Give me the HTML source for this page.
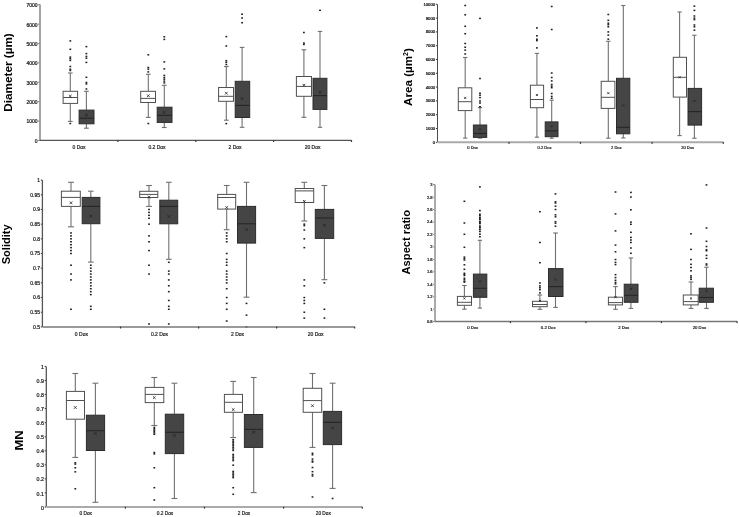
<!DOCTYPE html>
<html><head><meta charset="utf-8"><title>Box plots</title>
<style>
html,body{margin:0;padding:0;background:#fff;}
body{width:739px;height:517px;overflow:hidden;}
svg{display:block;}
text{font-family:"Liberation Sans",sans-serif;}
.tk{fill:#202020;text-anchor:end;stroke:#202020;stroke-width:0.22px;}
.xl{fill:#222;text-anchor:middle;stroke:#222;stroke-width:0.2px;}
.ti{font-weight:bold;fill:#000;}
.ax{stroke:#8a8a8a;stroke-width:1.6;}
.wk{stroke:#707070;stroke-width:1.1;}
.cap{stroke:#707070;stroke-width:1.1;}
.bw{fill:#fff;stroke:#505050;stroke-width:1;}
.mw{stroke:#505050;stroke-width:1;}
.bd{fill:#454545;stroke:#2c2c2c;stroke-width:1;}
.md{stroke:#262626;stroke-width:1.1;}
.mx{stroke:#222;stroke-width:0.8;fill:none;}
.o{fill:#1e1e1e;}
</style></head>
<body><svg style="filter:grayscale(1)" width="739" height="517" viewBox="0 0 739 517">
<rect width="739" height="517" fill="#fff"/>
<text x="37.6" y="142.8" class="tk" style="font-size:5px">0</text>
<rect x="38.4" y="139.9" width="1.3" height="1" fill="#333"/>
<text x="37.6" y="123.42" class="tk" style="font-size:5px">1000</text>
<rect x="38.4" y="120.52" width="1.3" height="1" fill="#333"/>
<text x="37.6" y="104.04" class="tk" style="font-size:5px">2000</text>
<rect x="38.4" y="101.14" width="1.3" height="1" fill="#333"/>
<text x="37.6" y="84.66" class="tk" style="font-size:5px">3000</text>
<rect x="38.4" y="81.76" width="1.3" height="1" fill="#333"/>
<text x="37.6" y="65.28" class="tk" style="font-size:5px">4000</text>
<rect x="38.4" y="62.38" width="1.3" height="1" fill="#333"/>
<text x="37.6" y="45.9" class="tk" style="font-size:5px">5000</text>
<rect x="38.4" y="43" width="1.3" height="1" fill="#333"/>
<text x="37.6" y="26.52" class="tk" style="font-size:5px">6000</text>
<rect x="38.4" y="23.62" width="1.3" height="1" fill="#333"/>
<text x="37.6" y="7.14" class="tk" style="font-size:5px">7000</text>
<rect x="38.4" y="4.24" width="1.3" height="1" fill="#333"/>
<line x1="70.3" y1="73" x2="70.3" y2="91.3" class="wk"/>
<line x1="70.3" y1="103.4" x2="70.3" y2="121.4" class="wk"/>
<line x1="67.98" y1="73" x2="72.62" y2="73" class="cap"/>
<line x1="67.98" y1="121.4" x2="72.62" y2="121.4" class="cap"/>
<rect x="63.1" y="91.3" width="14.5" height="12.1" class="bw"/>
<line x1="63.1" y1="97.5" x2="77.6" y2="97.5" class="mw"/>
<path d="M68.95 94.75L71.65 97.45M68.95 97.45L71.65 94.75" class="mx"/>
<rect x="69.4" y="40.15" width="1.8" height="1.5" class="o"/>
<rect x="69.4" y="48.55" width="1.8" height="1.5" class="o"/>
<rect x="69.4" y="56.35" width="1.8" height="1.5" class="o"/>
<rect x="69.4" y="57.95" width="1.8" height="1.5" class="o"/>
<rect x="69.4" y="59.65" width="1.8" height="1.5" class="o"/>
<rect x="69.4" y="65.75" width="1.8" height="1.5" class="o"/>
<rect x="69.4" y="68.45" width="1.8" height="1.5" class="o"/>
<rect x="69.4" y="69.75" width="1.8" height="1.5" class="o"/>
<rect x="69.4" y="122.75" width="1.8" height="1.5" class="o"/>
<line x1="86.4" y1="91.3" x2="86.4" y2="110.1" class="wk"/>
<line x1="86.4" y1="123.8" x2="86.4" y2="128.2" class="wk"/>
<line x1="84.02" y1="91.3" x2="88.78" y2="91.3" class="cap"/>
<line x1="84.02" y1="128.2" x2="88.78" y2="128.2" class="cap"/>
<rect x="79.1" y="110.1" width="14.9" height="13.7" class="bd"/>
<line x1="79.1" y1="118.2" x2="94" y2="118.2" class="md"/>
<path d="M85.05 113.75L87.75 116.45M85.05 116.45L87.75 113.75" class="mx"/>
<rect x="85.5" y="45.85" width="1.8" height="1.5" class="o"/>
<rect x="85.5" y="52.85" width="1.8" height="1.5" class="o"/>
<rect x="85.5" y="55.65" width="1.8" height="1.5" class="o"/>
<rect x="85.5" y="57.45" width="1.8" height="1.5" class="o"/>
<rect x="85.5" y="61.65" width="1.8" height="1.5" class="o"/>
<rect x="85.5" y="76.55" width="1.8" height="1.5" class="o"/>
<rect x="85.5" y="81.75" width="1.8" height="1.5" class="o"/>
<rect x="85.5" y="83.15" width="1.8" height="1.5" class="o"/>
<rect x="85.5" y="88.25" width="1.8" height="1.5" class="o"/>
<line x1="148.3" y1="74.3" x2="148.3" y2="91.3" class="wk"/>
<line x1="148.3" y1="102.5" x2="148.3" y2="117.4" class="wk"/>
<line x1="145.93" y1="74.3" x2="150.67" y2="74.3" class="cap"/>
<line x1="145.93" y1="117.4" x2="150.67" y2="117.4" class="cap"/>
<rect x="140.7" y="91.3" width="14.8" height="11.2" class="bw"/>
<line x1="140.7" y1="98.4" x2="155.5" y2="98.4" class="mw"/>
<path d="M146.95 94.35L149.65 97.05M146.95 97.05L149.65 94.35" class="mx"/>
<rect x="147.4" y="54.05" width="1.8" height="1.5" class="o"/>
<rect x="147.4" y="66.75" width="1.8" height="1.5" class="o"/>
<rect x="147.4" y="68.45" width="1.8" height="1.5" class="o"/>
<rect x="147.4" y="71.15" width="1.8" height="1.5" class="o"/>
<rect x="147.4" y="122.75" width="1.8" height="1.5" class="o"/>
<line x1="164.3" y1="85.3" x2="164.3" y2="107.2" class="wk"/>
<line x1="164.3" y1="122.4" x2="164.3" y2="127.5" class="wk"/>
<line x1="161.93" y1="85.3" x2="166.67" y2="85.3" class="cap"/>
<line x1="161.93" y1="127.5" x2="166.67" y2="127.5" class="cap"/>
<rect x="157.2" y="107.2" width="14.8" height="15.2" class="bd"/>
<line x1="157.2" y1="115.4" x2="172" y2="115.4" class="md"/>
<path d="M162.95 111.05L165.65 113.75M162.95 113.75L165.65 111.05" class="mx"/>
<rect x="163.4" y="36.05" width="1.8" height="1.5" class="o"/>
<rect x="163.4" y="38.65" width="1.8" height="1.5" class="o"/>
<rect x="163.4" y="61.15" width="1.8" height="1.5" class="o"/>
<rect x="163.4" y="68.15" width="1.8" height="1.5" class="o"/>
<rect x="163.4" y="74.65" width="1.8" height="1.5" class="o"/>
<rect x="163.4" y="76.75" width="1.8" height="1.5" class="o"/>
<rect x="163.4" y="78.45" width="1.8" height="1.5" class="o"/>
<rect x="163.4" y="80.35" width="1.8" height="1.5" class="o"/>
<rect x="163.4" y="82.15" width="1.8" height="1.5" class="o"/>
<line x1="226.3" y1="66.5" x2="226.3" y2="87.5" class="wk"/>
<line x1="226.3" y1="101.3" x2="226.3" y2="120.2" class="wk"/>
<line x1="223.92" y1="66.5" x2="228.68" y2="66.5" class="cap"/>
<line x1="223.92" y1="120.2" x2="228.68" y2="120.2" class="cap"/>
<rect x="218.6" y="87.5" width="14.9" height="13.8" class="bw"/>
<line x1="218.6" y1="96.3" x2="233.5" y2="96.3" class="mw"/>
<path d="M224.95 91.85L227.65 94.55M224.95 94.55L227.65 91.85" class="mx"/>
<rect x="225.4" y="35.85" width="1.8" height="1.5" class="o"/>
<rect x="225.4" y="45.25" width="1.8" height="1.5" class="o"/>
<rect x="225.4" y="59.95" width="1.8" height="1.5" class="o"/>
<rect x="225.4" y="61.55" width="1.8" height="1.5" class="o"/>
<rect x="225.4" y="63.75" width="1.8" height="1.5" class="o"/>
<rect x="225.4" y="122.85" width="1.8" height="1.5" class="o"/>
<line x1="242.1" y1="47.4" x2="242.1" y2="81.3" class="wk"/>
<line x1="242.1" y1="117.5" x2="242.1" y2="127.3" class="wk"/>
<line x1="239.78" y1="47.4" x2="244.42" y2="47.4" class="cap"/>
<line x1="239.78" y1="127.3" x2="244.42" y2="127.3" class="cap"/>
<rect x="235.2" y="81.3" width="14.5" height="36.2" class="bd"/>
<line x1="235.2" y1="105.4" x2="249.7" y2="105.4" class="md"/>
<path d="M240.75 97.25L243.45 99.95M240.75 99.95L243.45 97.25" class="mx"/>
<rect x="241.2" y="13.45" width="1.8" height="1.5" class="o"/>
<rect x="241.2" y="17.25" width="1.8" height="1.5" class="o"/>
<rect x="241.2" y="21.95" width="1.8" height="1.5" class="o"/>
<line x1="303.9" y1="49.8" x2="303.9" y2="76.5" class="wk"/>
<line x1="303.9" y1="96.3" x2="303.9" y2="117.3" class="wk"/>
<line x1="301.48" y1="49.8" x2="306.32" y2="49.8" class="cap"/>
<line x1="301.48" y1="117.3" x2="306.32" y2="117.3" class="cap"/>
<rect x="296.4" y="76.5" width="15.1" height="19.8" class="bw"/>
<line x1="296.4" y1="86.4" x2="311.5" y2="86.4" class="mw"/>
<path d="M302.55 83.85L305.25 86.55M302.55 86.55L305.25 83.85" class="mx"/>
<rect x="303" y="31.75" width="1.8" height="1.5" class="o"/>
<rect x="303" y="42.35" width="1.8" height="1.5" class="o"/>
<rect x="303" y="43.65" width="1.8" height="1.5" class="o"/>
<line x1="320" y1="31.4" x2="320" y2="78.3" class="wk"/>
<line x1="320" y1="109.4" x2="320" y2="127.3" class="wk"/>
<line x1="317.78" y1="31.4" x2="322.22" y2="31.4" class="cap"/>
<line x1="317.78" y1="127.3" x2="322.22" y2="127.3" class="cap"/>
<rect x="313" y="78.3" width="13.9" height="31.1" class="bd"/>
<line x1="313" y1="95.6" x2="326.9" y2="95.6" class="md"/>
<path d="M318.65 90.75L321.35 93.45M318.65 93.45L321.35 90.75" class="mx"/>
<rect x="319.1" y="9.55" width="1.8" height="1.5" class="o"/>
<line x1="40" y1="4.6" x2="40" y2="140.4" stroke="#999" stroke-width="1.8"/>
<line x1="40" y1="140.4" x2="351.5" y2="140.4" stroke="#555" stroke-width="1.25"/>
<rect x="117.3" y="140.2" width="1.2" height="1.8" fill="#333"/>
<rect x="195.2" y="140.2" width="1.2" height="1.8" fill="#333"/>
<rect x="273" y="140.2" width="1.2" height="1.8" fill="#333"/>
<rect x="350.9" y="140.2" width="1.2" height="1.8" fill="#333"/>
<text x="79" y="148.7" class="xl" style="font-size:5px">0 Dox</text>
<text x="157" y="148.7" class="xl" style="font-size:5px">0.2 Dox</text>
<text x="235" y="148.7" class="xl" style="font-size:5px">2 Dox</text>
<text x="312.6" y="148.7" class="xl" style="font-size:5px">20 Dox</text>
<text class="ti" style="font-size:11.59px" transform="translate(12.2 111.72) rotate(-90) scale(1.0135 1)">Diameter (µm)</text>
<text x="435.1" y="143.81" class="tk" style="font-size:4.2px">0</text>
<rect x="435.9" y="141.8" width="1.3" height="1" fill="#333"/>
<text x="435.1" y="130.01" class="tk" style="font-size:4.2px">1000</text>
<rect x="435.9" y="128" width="1.3" height="1" fill="#333"/>
<text x="435.1" y="116.21" class="tk" style="font-size:4.2px">2000</text>
<rect x="435.9" y="114.2" width="1.3" height="1" fill="#333"/>
<text x="435.1" y="102.41" class="tk" style="font-size:4.2px">3000</text>
<rect x="435.9" y="100.4" width="1.3" height="1" fill="#333"/>
<text x="435.1" y="88.61" class="tk" style="font-size:4.2px">4000</text>
<rect x="435.9" y="86.6" width="1.3" height="1" fill="#333"/>
<text x="435.1" y="74.81" class="tk" style="font-size:4.2px">5000</text>
<rect x="435.9" y="72.8" width="1.3" height="1" fill="#333"/>
<text x="435.1" y="61.01" class="tk" style="font-size:4.2px">6000</text>
<rect x="435.9" y="59" width="1.3" height="1" fill="#333"/>
<text x="435.1" y="47.21" class="tk" style="font-size:4.2px">7000</text>
<rect x="435.9" y="45.2" width="1.3" height="1" fill="#333"/>
<text x="435.1" y="33.41" class="tk" style="font-size:4.2px">8000</text>
<rect x="435.9" y="31.4" width="1.3" height="1" fill="#333"/>
<text x="435.1" y="19.61" class="tk" style="font-size:4.2px">9000</text>
<rect x="435.9" y="17.6" width="1.3" height="1" fill="#333"/>
<text x="435.1" y="5.81" class="tk" style="font-size:4.2px">10000</text>
<rect x="435.9" y="3.8" width="1.3" height="1" fill="#333"/>
<line x1="465.2" y1="57.5" x2="465.2" y2="87.8" class="wk"/>
<line x1="465.2" y1="110.6" x2="465.2" y2="138.1" class="wk"/>
<line x1="463.04" y1="57.5" x2="467.36" y2="57.5" class="cap"/>
<line x1="463.04" y1="138.1" x2="467.36" y2="138.1" class="cap"/>
<rect x="458.3" y="87.8" width="13.5" height="22.8" class="bw"/>
<line x1="458.3" y1="101.7" x2="471.8" y2="101.7" class="mw"/>
<path d="M464.2 96.9L466.2 98.9M464.2 98.9L466.2 96.9" class="mx"/>
<rect x="464.3" y="4.75" width="1.8" height="1.5" class="o"/>
<rect x="464.3" y="14.05" width="1.8" height="1.5" class="o"/>
<rect x="464.3" y="25.55" width="1.8" height="1.5" class="o"/>
<rect x="464.3" y="32.95" width="1.8" height="1.5" class="o"/>
<rect x="464.3" y="42.75" width="1.8" height="1.5" class="o"/>
<rect x="464.3" y="46.45" width="1.8" height="1.5" class="o"/>
<rect x="464.3" y="49.35" width="1.8" height="1.5" class="o"/>
<rect x="464.3" y="53.25" width="1.8" height="1.5" class="o"/>
<line x1="480" y1="107.6" x2="480" y2="125" class="wk"/>
<line x1="480" y1="137.4" x2="480" y2="138.1" class="wk"/>
<line x1="477.87" y1="107.6" x2="482.13" y2="107.6" class="cap"/>
<line x1="477.87" y1="138.1" x2="482.13" y2="138.1" class="cap"/>
<rect x="473.4" y="125" width="13.3" height="12.4" class="bd"/>
<line x1="473.4" y1="133.5" x2="486.7" y2="133.5" class="md"/>
<path d="M479 128.3L481 130.3M479 130.3L481 128.3" class="mx"/>
<rect x="479.1" y="17.65" width="1.8" height="1.5" class="o"/>
<rect x="479.1" y="77.75" width="1.8" height="1.5" class="o"/>
<rect x="479.1" y="92.45" width="1.8" height="1.5" class="o"/>
<rect x="479.1" y="94.45" width="1.8" height="1.5" class="o"/>
<rect x="479.1" y="96.85" width="1.8" height="1.5" class="o"/>
<rect x="479.1" y="100.25" width="1.8" height="1.5" class="o"/>
<rect x="479.1" y="102.25" width="1.8" height="1.5" class="o"/>
<rect x="479.1" y="105.95" width="1.8" height="1.5" class="o"/>
<line x1="536.9" y1="53.4" x2="536.9" y2="85.2" class="wk"/>
<line x1="536.9" y1="107.7" x2="536.9" y2="137.2" class="wk"/>
<line x1="534.79" y1="53.4" x2="539.01" y2="53.4" class="cap"/>
<line x1="534.79" y1="137.2" x2="539.01" y2="137.2" class="cap"/>
<rect x="530.4" y="85.2" width="13.2" height="22.5" class="bw"/>
<line x1="530.4" y1="99.5" x2="543.6" y2="99.5" class="mw"/>
<path d="M535.9 94L537.9 96M535.9 96L537.9 94" class="mx"/>
<rect x="536" y="27.15" width="1.8" height="1.5" class="o"/>
<rect x="536" y="35.05" width="1.8" height="1.5" class="o"/>
<rect x="536" y="38.45" width="1.8" height="1.5" class="o"/>
<rect x="536" y="39.85" width="1.8" height="1.5" class="o"/>
<rect x="536" y="47.15" width="1.8" height="1.5" class="o"/>
<line x1="551.7" y1="100.2" x2="551.7" y2="121.9" class="wk"/>
<line x1="551.7" y1="136.7" x2="551.7" y2="138.2" class="wk"/>
<line x1="549.65" y1="100.2" x2="553.75" y2="100.2" class="cap"/>
<line x1="549.65" y1="138.2" x2="553.75" y2="138.2" class="cap"/>
<rect x="545.2" y="121.9" width="12.8" height="14.8" class="bd"/>
<line x1="545.2" y1="130.9" x2="558" y2="130.9" class="md"/>
<path d="M550.7 125.3L552.7 127.3M550.7 127.3L552.7 125.3" class="mx"/>
<rect x="550.8" y="5.75" width="1.8" height="1.5" class="o"/>
<rect x="550.8" y="28.75" width="1.8" height="1.5" class="o"/>
<rect x="550.8" y="72.25" width="1.8" height="1.5" class="o"/>
<rect x="550.8" y="76.75" width="1.8" height="1.5" class="o"/>
<rect x="550.8" y="80.15" width="1.8" height="1.5" class="o"/>
<rect x="550.8" y="83.75" width="1.8" height="1.5" class="o"/>
<rect x="550.8" y="85.45" width="1.8" height="1.5" class="o"/>
<rect x="550.8" y="86.95" width="1.8" height="1.5" class="o"/>
<rect x="550.8" y="92.75" width="1.8" height="1.5" class="o"/>
<rect x="550.8" y="95.65" width="1.8" height="1.5" class="o"/>
<rect x="550.8" y="97.55" width="1.8" height="1.5" class="o"/>
<line x1="608.3" y1="41.3" x2="608.3" y2="81.3" class="wk"/>
<line x1="608.3" y1="108.4" x2="608.3" y2="138.2" class="wk"/>
<line x1="606.11" y1="41.3" x2="610.49" y2="41.3" class="cap"/>
<line x1="606.11" y1="138.2" x2="610.49" y2="138.2" class="cap"/>
<rect x="601.2" y="81.3" width="13.7" height="27.1" class="bw"/>
<line x1="601.2" y1="97.3" x2="614.9" y2="97.3" class="mw"/>
<path d="M607.3 92.2L609.3 94.2M607.3 94.2L609.3 92.2" class="mx"/>
<rect x="607.4" y="13.75" width="1.8" height="1.5" class="o"/>
<rect x="607.4" y="19.55" width="1.8" height="1.5" class="o"/>
<rect x="607.4" y="22.45" width="1.8" height="1.5" class="o"/>
<rect x="607.4" y="23.95" width="1.8" height="1.5" class="o"/>
<rect x="607.4" y="26.05" width="1.8" height="1.5" class="o"/>
<rect x="607.4" y="31.15" width="1.8" height="1.5" class="o"/>
<rect x="607.4" y="34.35" width="1.8" height="1.5" class="o"/>
<rect x="607.4" y="38.45" width="1.8" height="1.5" class="o"/>
<line x1="623.3" y1="5.5" x2="623.3" y2="78.3" class="wk"/>
<line x1="623.3" y1="133.8" x2="623.3" y2="137.9" class="wk"/>
<line x1="621.17" y1="5.5" x2="625.43" y2="5.5" class="cap"/>
<line x1="621.17" y1="137.9" x2="625.43" y2="137.9" class="cap"/>
<rect x="616.5" y="78.3" width="13.3" height="55.5" class="bd"/>
<line x1="616.5" y1="127.3" x2="629.8" y2="127.3" class="md"/>
<path d="M622.3 104.5L624.3 106.5M622.3 106.5L624.3 104.5" class="mx"/>
<line x1="679.6" y1="12" x2="679.6" y2="57.3" class="wk"/>
<line x1="679.6" y1="97.1" x2="679.6" y2="135.6" class="wk"/>
<line x1="677.49" y1="12" x2="681.71" y2="12" class="cap"/>
<line x1="677.49" y1="135.6" x2="681.71" y2="135.6" class="cap"/>
<rect x="673.3" y="57.3" width="13.2" height="39.8" class="bw"/>
<line x1="673.3" y1="77.3" x2="686.5" y2="77.3" class="mw"/>
<path d="M678.6 76.3L680.6 78.3M678.6 78.3L680.6 76.3" class="mx"/>
<line x1="694.4" y1="35.3" x2="694.4" y2="88.4" class="wk"/>
<line x1="694.4" y1="125.1" x2="694.4" y2="138.2" class="wk"/>
<line x1="692.22" y1="35.3" x2="696.58" y2="35.3" class="cap"/>
<line x1="692.22" y1="138.2" x2="696.58" y2="138.2" class="cap"/>
<rect x="688" y="88.4" width="13.6" height="36.7" class="bd"/>
<line x1="688" y1="111.6" x2="701.6" y2="111.6" class="md"/>
<path d="M693.4 99.9L695.4 101.9M693.4 101.9L695.4 99.9" class="mx"/>
<rect x="693.5" y="5.35" width="1.8" height="1.5" class="o"/>
<rect x="693.5" y="9.65" width="1.8" height="1.5" class="o"/>
<rect x="693.5" y="15.25" width="1.8" height="1.5" class="o"/>
<rect x="693.5" y="17.35" width="1.8" height="1.5" class="o"/>
<rect x="693.5" y="18.85" width="1.8" height="1.5" class="o"/>
<rect x="693.5" y="24.25" width="1.8" height="1.5" class="o"/>
<rect x="693.5" y="26.05" width="1.8" height="1.5" class="o"/>
<rect x="693.5" y="29.45" width="1.8" height="1.5" class="o"/>
<line x1="437.5" y1="4.3" x2="437.5" y2="142.2" stroke="#4a4a4a" stroke-width="1"/>
<line x1="437.5" y1="142.2" x2="723.3" y2="142.2" stroke="#aaa" stroke-width="2"/>
<rect x="508.4" y="142" width="1.2" height="1.8" fill="#333"/>
<rect x="579.9" y="142" width="1.2" height="1.8" fill="#333"/>
<rect x="651.5" y="142" width="1.2" height="1.8" fill="#333"/>
<rect x="722.7" y="142" width="1.2" height="1.8" fill="#333"/>
<text x="472.6" y="148.9" class="xl" style="font-size:4.05px">0 Dox</text>
<text x="544.6" y="148.9" class="xl" style="font-size:4.05px">0.2 Dox</text>
<text x="616.3" y="148.9" class="xl" style="font-size:4.05px">2 Dox</text>
<text x="687.6" y="148.9" class="xl" style="font-size:4.05px">20 Dox</text>
<text class="ti" style="font-size:11.16px" transform="translate(411.9 105.95) rotate(-90) scale(1.0427 1)">Area (µm<tspan font-size="60%" dy="-3.68">2</tspan><tspan dy="3.68">)</tspan></text>
<text x="40" y="328.7" class="tk" style="font-size:5px">0.5</text>
<rect x="40.8" y="326.4" width="1.3" height="1" fill="#333"/>
<text x="40" y="314.02" class="tk" style="font-size:5px">0.55</text>
<rect x="40.8" y="311.72" width="1.3" height="1" fill="#333"/>
<text x="40" y="299.34" class="tk" style="font-size:5px">0.6</text>
<rect x="40.8" y="297.04" width="1.3" height="1" fill="#333"/>
<text x="40" y="284.66" class="tk" style="font-size:5px">0.65</text>
<rect x="40.8" y="282.36" width="1.3" height="1" fill="#333"/>
<text x="40" y="269.98" class="tk" style="font-size:5px">0.7</text>
<rect x="40.8" y="267.68" width="1.3" height="1" fill="#333"/>
<text x="40" y="255.3" class="tk" style="font-size:5px">0.75</text>
<rect x="40.8" y="253" width="1.3" height="1" fill="#333"/>
<text x="40" y="240.62" class="tk" style="font-size:5px">0.8</text>
<rect x="40.8" y="238.32" width="1.3" height="1" fill="#333"/>
<text x="40" y="225.94" class="tk" style="font-size:5px">0.85</text>
<rect x="40.8" y="223.64" width="1.3" height="1" fill="#333"/>
<text x="40" y="211.26" class="tk" style="font-size:5px">0.9</text>
<rect x="40.8" y="208.96" width="1.3" height="1" fill="#333"/>
<text x="40" y="196.58" class="tk" style="font-size:5px">0.95</text>
<rect x="40.8" y="194.28" width="1.3" height="1" fill="#333"/>
<text x="40" y="181.9" class="tk" style="font-size:5px">1</text>
<rect x="40.8" y="179.6" width="1.3" height="1" fill="#333"/>
<line x1="71" y1="182.3" x2="71" y2="191.2" class="wk"/>
<line x1="71" y1="206.4" x2="71" y2="226.8" class="wk"/>
<line x1="67.98" y1="182.3" x2="74.02" y2="182.3" class="cap"/>
<line x1="67.98" y1="226.8" x2="74.02" y2="226.8" class="cap"/>
<rect x="61.4" y="191.2" width="18.9" height="15.2" class="bw"/>
<line x1="61.4" y1="197.4" x2="80.3" y2="197.4" class="mw"/>
<path d="M69.65 201.45L72.35 204.15M69.65 204.15L72.35 201.45" class="mx"/>
<rect x="70.1" y="232.2" width="1.8" height="1.5" class="o"/>
<rect x="70.1" y="235.13" width="1.8" height="1.5" class="o"/>
<rect x="70.1" y="238.07" width="1.8" height="1.5" class="o"/>
<rect x="70.1" y="241.01" width="1.8" height="1.5" class="o"/>
<rect x="70.1" y="243.94" width="1.8" height="1.5" class="o"/>
<rect x="70.1" y="246.88" width="1.8" height="1.5" class="o"/>
<rect x="70.1" y="249.81" width="1.8" height="1.5" class="o"/>
<rect x="70.1" y="252.75" width="1.8" height="1.5" class="o"/>
<rect x="70.1" y="264.49" width="1.8" height="1.5" class="o"/>
<rect x="70.1" y="273.3" width="1.8" height="1.5" class="o"/>
<rect x="70.1" y="279.17" width="1.8" height="1.5" class="o"/>
<rect x="70.1" y="308.53" width="1.8" height="1.5" class="o"/>
<line x1="90.8" y1="191.2" x2="90.8" y2="197.4" class="wk"/>
<line x1="90.8" y1="223.7" x2="90.8" y2="262.1" class="wk"/>
<line x1="87.97" y1="191.2" x2="93.63" y2="191.2" class="cap"/>
<line x1="87.97" y1="262.1" x2="93.63" y2="262.1" class="cap"/>
<rect x="82.2" y="197.4" width="17.7" height="26.3" class="bd"/>
<line x1="82.2" y1="206.4" x2="99.9" y2="206.4" class="md"/>
<path d="M89.45 214.65L92.15 217.35M89.45 217.35L92.15 214.65" class="mx"/>
<rect x="89.9" y="264.49" width="1.8" height="1.5" class="o"/>
<rect x="89.9" y="267.43" width="1.8" height="1.5" class="o"/>
<rect x="89.9" y="270.37" width="1.8" height="1.5" class="o"/>
<rect x="89.9" y="273.3" width="1.8" height="1.5" class="o"/>
<rect x="89.9" y="276.24" width="1.8" height="1.5" class="o"/>
<rect x="89.9" y="279.17" width="1.8" height="1.5" class="o"/>
<rect x="89.9" y="282.11" width="1.8" height="1.5" class="o"/>
<rect x="89.9" y="285.05" width="1.8" height="1.5" class="o"/>
<rect x="89.9" y="287.98" width="1.8" height="1.5" class="o"/>
<rect x="89.9" y="290.92" width="1.8" height="1.5" class="o"/>
<rect x="89.9" y="293.85" width="1.8" height="1.5" class="o"/>
<rect x="89.9" y="305.6" width="1.8" height="1.5" class="o"/>
<rect x="89.9" y="308.53" width="1.8" height="1.5" class="o"/>
<line x1="149" y1="185.5" x2="149" y2="191.3" class="wk"/>
<line x1="149" y1="197.5" x2="149" y2="206.4" class="wk"/>
<line x1="146.1" y1="185.5" x2="151.9" y2="185.5" class="cap"/>
<line x1="146.1" y1="206.4" x2="151.9" y2="206.4" class="cap"/>
<rect x="139.7" y="191.3" width="18.1" height="6.2" class="bw"/>
<line x1="139.7" y1="194.4" x2="157.8" y2="194.4" class="mw"/>
<path d="M147.65 195.75L150.35 198.45M147.65 198.45L150.35 195.75" class="mx"/>
<rect x="148.1" y="208.71" width="1.8" height="1.5" class="o"/>
<rect x="148.1" y="211.65" width="1.8" height="1.5" class="o"/>
<rect x="148.1" y="214.58" width="1.8" height="1.5" class="o"/>
<rect x="148.1" y="217.52" width="1.8" height="1.5" class="o"/>
<rect x="148.1" y="223.39" width="1.8" height="1.5" class="o"/>
<rect x="148.1" y="235.13" width="1.8" height="1.5" class="o"/>
<rect x="148.1" y="241.01" width="1.8" height="1.5" class="o"/>
<rect x="148.1" y="249.81" width="1.8" height="1.5" class="o"/>
<rect x="148.1" y="264.49" width="1.8" height="1.5" class="o"/>
<rect x="148.1" y="273.3" width="1.8" height="1.5" class="o"/>
<rect x="148.1" y="323.21" width="1.8" height="1.5" class="o"/>
<line x1="168.8" y1="182.3" x2="168.8" y2="200.2" class="wk"/>
<line x1="168.8" y1="223.8" x2="168.8" y2="259.3" class="wk"/>
<line x1="165.94" y1="182.3" x2="171.66" y2="182.3" class="cap"/>
<line x1="165.94" y1="259.3" x2="171.66" y2="259.3" class="cap"/>
<rect x="159.8" y="200.2" width="17.9" height="23.6" class="bd"/>
<line x1="159.8" y1="206.4" x2="177.7" y2="206.4" class="md"/>
<path d="M167.45 215.15L170.15 217.85M167.45 217.85L170.15 215.15" class="mx"/>
<rect x="167.9" y="261.56" width="1.8" height="1.5" class="o"/>
<rect x="167.9" y="270.37" width="1.8" height="1.5" class="o"/>
<rect x="167.9" y="273.3" width="1.8" height="1.5" class="o"/>
<rect x="167.9" y="279.17" width="1.8" height="1.5" class="o"/>
<rect x="167.9" y="285.05" width="1.8" height="1.5" class="o"/>
<rect x="167.9" y="290.92" width="1.8" height="1.5" class="o"/>
<rect x="167.9" y="299.73" width="1.8" height="1.5" class="o"/>
<rect x="167.9" y="305.6" width="1.8" height="1.5" class="o"/>
<rect x="167.9" y="308.53" width="1.8" height="1.5" class="o"/>
<rect x="167.9" y="323.21" width="1.8" height="1.5" class="o"/>
<line x1="226.7" y1="185.5" x2="226.7" y2="194.4" class="wk"/>
<line x1="226.7" y1="209.1" x2="226.7" y2="229.7" class="wk"/>
<line x1="223.82" y1="185.5" x2="229.58" y2="185.5" class="cap"/>
<line x1="223.82" y1="229.7" x2="229.58" y2="229.7" class="cap"/>
<rect x="217.7" y="194.4" width="18" height="14.7" class="bw"/>
<line x1="217.7" y1="197.5" x2="235.7" y2="197.5" class="mw"/>
<path d="M225.35 206.15L228.05 208.85M225.35 208.85L228.05 206.15" class="mx"/>
<rect x="225.8" y="232.2" width="1.8" height="1.5" class="o"/>
<rect x="225.8" y="235.13" width="1.8" height="1.5" class="o"/>
<rect x="225.8" y="238.07" width="1.8" height="1.5" class="o"/>
<rect x="225.8" y="241.01" width="1.8" height="1.5" class="o"/>
<rect x="225.8" y="252.75" width="1.8" height="1.5" class="o"/>
<rect x="225.8" y="258.62" width="1.8" height="1.5" class="o"/>
<rect x="225.8" y="261.56" width="1.8" height="1.5" class="o"/>
<rect x="225.8" y="264.49" width="1.8" height="1.5" class="o"/>
<rect x="225.8" y="270.37" width="1.8" height="1.5" class="o"/>
<rect x="225.8" y="273.3" width="1.8" height="1.5" class="o"/>
<rect x="225.8" y="276.24" width="1.8" height="1.5" class="o"/>
<rect x="225.8" y="279.17" width="1.8" height="1.5" class="o"/>
<rect x="225.8" y="282.11" width="1.8" height="1.5" class="o"/>
<rect x="225.8" y="287.98" width="1.8" height="1.5" class="o"/>
<rect x="225.8" y="296.79" width="1.8" height="1.5" class="o"/>
<rect x="225.8" y="302.66" width="1.8" height="1.5" class="o"/>
<rect x="225.8" y="308.53" width="1.8" height="1.5" class="o"/>
<rect x="225.8" y="320.28" width="1.8" height="1.5" class="o"/>
<line x1="246.5" y1="182.3" x2="246.5" y2="206.4" class="wk"/>
<line x1="246.5" y1="243.1" x2="246.5" y2="297.2" class="wk"/>
<line x1="243.6" y1="182.3" x2="249.4" y2="182.3" class="cap"/>
<line x1="243.6" y1="297.2" x2="249.4" y2="297.2" class="cap"/>
<rect x="237.5" y="206.4" width="18.1" height="36.7" class="bd"/>
<line x1="237.5" y1="223.8" x2="255.6" y2="223.8" class="md"/>
<path d="M245.15 228.15L247.85 230.85M245.15 230.85L247.85 228.15" class="mx"/>
<rect x="245.6" y="302.66" width="1.8" height="1.5" class="o"/>
<rect x="245.6" y="314.41" width="1.8" height="1.5" class="o"/>
<rect x="245.6" y="326.15" width="1.8" height="1.5" class="o"/>
<line x1="304.3" y1="182.3" x2="304.3" y2="188.5" class="wk"/>
<line x1="304.3" y1="202.5" x2="304.3" y2="221" class="wk"/>
<line x1="301.34" y1="182.3" x2="307.26" y2="182.3" class="cap"/>
<line x1="301.34" y1="221" x2="307.26" y2="221" class="cap"/>
<rect x="295.2" y="188.5" width="18.5" height="14" class="bw"/>
<line x1="295.2" y1="190.9" x2="313.7" y2="190.9" class="mw"/>
<path d="M302.95 199.95L305.65 202.65M302.95 202.65L305.65 199.95" class="mx"/>
<rect x="303.4" y="223.39" width="1.8" height="1.5" class="o"/>
<rect x="303.4" y="224.86" width="1.8" height="1.5" class="o"/>
<rect x="303.4" y="229.26" width="1.8" height="1.5" class="o"/>
<rect x="303.4" y="238.07" width="1.8" height="1.5" class="o"/>
<rect x="303.4" y="246.88" width="1.8" height="1.5" class="o"/>
<rect x="303.4" y="279.17" width="1.8" height="1.5" class="o"/>
<rect x="303.4" y="285.05" width="1.8" height="1.5" class="o"/>
<rect x="303.4" y="296.79" width="1.8" height="1.5" class="o"/>
<rect x="303.4" y="299.73" width="1.8" height="1.5" class="o"/>
<rect x="303.4" y="302.66" width="1.8" height="1.5" class="o"/>
<rect x="303.4" y="311.47" width="1.8" height="1.5" class="o"/>
<rect x="303.4" y="317.34" width="1.8" height="1.5" class="o"/>
<line x1="324.4" y1="185.5" x2="324.4" y2="209.4" class="wk"/>
<line x1="324.4" y1="238.4" x2="324.4" y2="279.7" class="wk"/>
<line x1="321.46" y1="185.5" x2="327.34" y2="185.5" class="cap"/>
<line x1="321.46" y1="279.7" x2="327.34" y2="279.7" class="cap"/>
<rect x="315.3" y="209.4" width="18.4" height="29" class="bd"/>
<line x1="315.3" y1="218" x2="333.7" y2="218" class="md"/>
<path d="M323.05 223.95L325.75 226.65M323.05 226.65L325.75 223.95" class="mx"/>
<rect x="323.5" y="282.11" width="1.8" height="1.5" class="o"/>
<rect x="323.5" y="308.53" width="1.8" height="1.5" class="o"/>
<rect x="323.5" y="317.34" width="1.8" height="1.5" class="o"/>
<line x1="42.4" y1="180" x2="42.4" y2="326.9" stroke="#555" stroke-width="1.3"/>
<line x1="42.4" y1="326.9" x2="354.7" y2="326.9" stroke="#777" stroke-width="1.5"/>
<rect x="119.9" y="326.7" width="1.2" height="1.8" fill="#333"/>
<rect x="198" y="326.7" width="1.2" height="1.8" fill="#333"/>
<rect x="276" y="326.7" width="1.2" height="1.8" fill="#333"/>
<rect x="354.1" y="326.7" width="1.2" height="1.8" fill="#333"/>
<text x="81.4" y="335.6" class="xl" style="font-size:5px">0 Dox</text>
<text x="159.5" y="335.6" class="xl" style="font-size:5px">0.2 Dox</text>
<text x="237.6" y="335.6" class="xl" style="font-size:5px">2 Dox</text>
<text x="315.7" y="335.6" class="xl" style="font-size:5px">20 Dox</text>
<text class="ti" style="font-size:11.16px" transform="translate(10 264.33) rotate(-90) scale(0.9940 1)">Solidity</text>
<text x="432.6" y="323.08" class="tk" style="font-size:4.1px">0.8</text>
<rect x="433.4" y="321.1" width="1.3" height="1" fill="#333"/>
<text x="432.6" y="310.62" class="tk" style="font-size:4.1px">1</text>
<rect x="433.4" y="308.65" width="1.3" height="1" fill="#333"/>
<text x="432.6" y="298.17" class="tk" style="font-size:4.1px">1.2</text>
<rect x="433.4" y="296.19" width="1.3" height="1" fill="#333"/>
<text x="432.6" y="285.71" class="tk" style="font-size:4.1px">1.4</text>
<rect x="433.4" y="283.74" width="1.3" height="1" fill="#333"/>
<text x="432.6" y="273.26" class="tk" style="font-size:4.1px">1.6</text>
<rect x="433.4" y="271.28" width="1.3" height="1" fill="#333"/>
<text x="432.6" y="260.81" class="tk" style="font-size:4.1px">1.8</text>
<rect x="433.4" y="258.83" width="1.3" height="1" fill="#333"/>
<text x="432.6" y="248.35" class="tk" style="font-size:4.1px">2</text>
<rect x="433.4" y="246.38" width="1.3" height="1" fill="#333"/>
<text x="432.6" y="235.9" class="tk" style="font-size:4.1px">2.2</text>
<rect x="433.4" y="233.92" width="1.3" height="1" fill="#333"/>
<text x="432.6" y="223.44" class="tk" style="font-size:4.1px">2.4</text>
<rect x="433.4" y="221.47" width="1.3" height="1" fill="#333"/>
<text x="432.6" y="210.99" class="tk" style="font-size:4.1px">2.6</text>
<rect x="433.4" y="209.01" width="1.3" height="1" fill="#333"/>
<text x="432.6" y="198.54" class="tk" style="font-size:4.1px">2.8</text>
<rect x="433.4" y="196.56" width="1.3" height="1" fill="#333"/>
<text x="432.6" y="186.08" class="tk" style="font-size:4.1px">3</text>
<rect x="433.4" y="184.11" width="1.3" height="1" fill="#333"/>
<line x1="464.4" y1="285.5" x2="464.4" y2="296.4" class="wk"/>
<line x1="464.4" y1="305.3" x2="464.4" y2="309.2" class="wk"/>
<line x1="462.14" y1="285.5" x2="466.66" y2="285.5" class="cap"/>
<line x1="462.14" y1="309.2" x2="466.66" y2="309.2" class="cap"/>
<rect x="457.4" y="296.4" width="14.1" height="8.9" class="bw"/>
<line x1="457.4" y1="302.3" x2="471.5" y2="302.3" class="mw"/>
<path d="M463.35 297.35L465.45 299.45M463.35 299.45L465.45 297.35" class="mx"/>
<rect x="463.5" y="200.55" width="1.8" height="1.5" class="o"/>
<rect x="463.5" y="222.25" width="1.8" height="1.5" class="o"/>
<rect x="463.5" y="233.55" width="1.8" height="1.5" class="o"/>
<rect x="463.5" y="246.55" width="1.8" height="1.5" class="o"/>
<rect x="463.5" y="256.35" width="1.8" height="1.5" class="o"/>
<rect x="463.5" y="257.85" width="1.8" height="1.5" class="o"/>
<rect x="463.5" y="259.25" width="1.8" height="1.5" class="o"/>
<rect x="463.5" y="264.05" width="1.8" height="1.5" class="o"/>
<rect x="463.5" y="268.55" width="1.8" height="1.5" class="o"/>
<rect x="463.5" y="272.55" width="1.8" height="1.5" class="o"/>
<rect x="463.5" y="273.65" width="1.8" height="1.5" class="o"/>
<rect x="463.5" y="274.75" width="1.8" height="1.5" class="o"/>
<rect x="463.5" y="277.55" width="1.8" height="1.5" class="o"/>
<rect x="463.5" y="279.05" width="1.8" height="1.5" class="o"/>
<rect x="463.5" y="280.65" width="1.8" height="1.5" class="o"/>
<rect x="463.5" y="281.35" width="1.8" height="1.5" class="o"/>
<line x1="479.9" y1="240.3" x2="479.9" y2="274.1" class="wk"/>
<line x1="479.9" y1="297.3" x2="479.9" y2="308.1" class="wk"/>
<line x1="477.76" y1="240.3" x2="482.04" y2="240.3" class="cap"/>
<line x1="477.76" y1="308.1" x2="482.04" y2="308.1" class="cap"/>
<rect x="473.4" y="274.1" width="13.4" height="23.2" class="bd"/>
<line x1="473.4" y1="288.3" x2="486.8" y2="288.3" class="md"/>
<path d="M478.85 280.35L480.95 282.45M478.85 282.45L480.95 280.35" class="mx"/>
<rect x="479" y="186.15" width="1.8" height="1.5" class="o"/>
<rect x="479" y="209.85" width="1.8" height="1.5" class="o"/>
<rect x="479" y="213.55" width="1.8" height="1.5" class="o"/>
<rect x="479" y="214.85" width="1.8" height="1.5" class="o"/>
<rect x="479" y="216.65" width="1.8" height="1.5" class="o"/>
<rect x="479" y="217.85" width="1.8" height="1.5" class="o"/>
<rect x="479" y="218.85" width="1.8" height="1.5" class="o"/>
<rect x="479" y="220.85" width="1.8" height="1.5" class="o"/>
<rect x="479" y="221.85" width="1.8" height="1.5" class="o"/>
<rect x="479" y="222.85" width="1.8" height="1.5" class="o"/>
<rect x="479" y="225.25" width="1.8" height="1.5" class="o"/>
<rect x="479" y="226.25" width="1.8" height="1.5" class="o"/>
<rect x="479" y="227.15" width="1.8" height="1.5" class="o"/>
<rect x="479" y="228.85" width="1.8" height="1.5" class="o"/>
<rect x="479" y="230.75" width="1.8" height="1.5" class="o"/>
<rect x="479" y="233.45" width="1.8" height="1.5" class="o"/>
<rect x="479" y="235.95" width="1.8" height="1.5" class="o"/>
<line x1="539.9" y1="295" x2="539.9" y2="301.3" class="wk"/>
<line x1="539.9" y1="306.7" x2="539.9" y2="309.3" class="wk"/>
<line x1="537.55" y1="295" x2="542.25" y2="295" class="cap"/>
<line x1="537.55" y1="309.3" x2="542.25" y2="309.3" class="cap"/>
<rect x="532.5" y="301.3" width="14.7" height="5.4" class="bw"/>
<line x1="532.5" y1="304.5" x2="547.2" y2="304.5" class="mw"/>
<path d="M538.85 299.85L540.95 301.95M538.85 301.95L540.95 299.85" class="mx"/>
<rect x="539" y="210.95" width="1.8" height="1.5" class="o"/>
<rect x="539" y="241.75" width="1.8" height="1.5" class="o"/>
<rect x="539" y="261.95" width="1.8" height="1.5" class="o"/>
<rect x="539" y="282.25" width="1.8" height="1.5" class="o"/>
<rect x="539" y="285.15" width="1.8" height="1.5" class="o"/>
<rect x="539" y="287.05" width="1.8" height="1.5" class="o"/>
<rect x="539" y="288.95" width="1.8" height="1.5" class="o"/>
<rect x="539" y="292.15" width="1.8" height="1.5" class="o"/>
<line x1="555.5" y1="233" x2="555.5" y2="268.6" class="wk"/>
<line x1="555.5" y1="296.5" x2="555.5" y2="307.4" class="wk"/>
<line x1="553.18" y1="233" x2="557.82" y2="233" class="cap"/>
<line x1="553.18" y1="307.4" x2="557.82" y2="307.4" class="cap"/>
<rect x="548.5" y="268.6" width="14.5" height="27.9" class="bd"/>
<line x1="548.5" y1="286.6" x2="563" y2="286.6" class="md"/>
<path d="M554.45 278.45L556.55 280.55M554.45 280.55L556.55 278.45" class="mx"/>
<rect x="554.6" y="193.15" width="1.8" height="1.5" class="o"/>
<rect x="554.6" y="201.05" width="1.8" height="1.5" class="o"/>
<rect x="554.6" y="202.25" width="1.8" height="1.5" class="o"/>
<rect x="554.6" y="205.45" width="1.8" height="1.5" class="o"/>
<rect x="554.6" y="208.75" width="1.8" height="1.5" class="o"/>
<rect x="554.6" y="214.15" width="1.8" height="1.5" class="o"/>
<rect x="554.6" y="216.05" width="1.8" height="1.5" class="o"/>
<rect x="554.6" y="220.95" width="1.8" height="1.5" class="o"/>
<rect x="554.6" y="222.45" width="1.8" height="1.5" class="o"/>
<rect x="554.6" y="225.45" width="1.8" height="1.5" class="o"/>
<line x1="615.5" y1="286.6" x2="615.5" y2="297.2" class="wk"/>
<line x1="615.5" y1="304.9" x2="615.5" y2="309.3" class="wk"/>
<line x1="613.24" y1="286.6" x2="617.76" y2="286.6" class="cap"/>
<line x1="613.24" y1="309.3" x2="617.76" y2="309.3" class="cap"/>
<rect x="608.4" y="297.2" width="14.1" height="7.7" class="bw"/>
<line x1="608.4" y1="302.6" x2="622.5" y2="302.6" class="mw"/>
<path d="M614.45 296.15L616.55 298.25M614.45 298.25L616.55 296.15" class="mx"/>
<rect x="614.6" y="191.25" width="1.8" height="1.5" class="o"/>
<rect x="614.6" y="213.15" width="1.8" height="1.5" class="o"/>
<rect x="614.6" y="230.15" width="1.8" height="1.5" class="o"/>
<rect x="614.6" y="244.35" width="1.8" height="1.5" class="o"/>
<rect x="614.6" y="251.05" width="1.8" height="1.5" class="o"/>
<rect x="614.6" y="258.75" width="1.8" height="1.5" class="o"/>
<rect x="614.6" y="261.65" width="1.8" height="1.5" class="o"/>
<rect x="614.6" y="263.85" width="1.8" height="1.5" class="o"/>
<rect x="614.6" y="273.95" width="1.8" height="1.5" class="o"/>
<rect x="614.6" y="276.85" width="1.8" height="1.5" class="o"/>
<rect x="614.6" y="279.55" width="1.8" height="1.5" class="o"/>
<rect x="614.6" y="281.65" width="1.8" height="1.5" class="o"/>
<rect x="614.6" y="283.15" width="1.8" height="1.5" class="o"/>
<line x1="630.9" y1="258" x2="630.9" y2="284.2" class="wk"/>
<line x1="630.9" y1="302.3" x2="630.9" y2="308.4" class="wk"/>
<line x1="628.69" y1="258" x2="633.11" y2="258" class="cap"/>
<line x1="628.69" y1="308.4" x2="633.11" y2="308.4" class="cap"/>
<rect x="624.2" y="284.2" width="13.8" height="18.1" class="bd"/>
<line x1="624.2" y1="295.3" x2="638" y2="295.3" class="md"/>
<path d="M629.85 287.75L631.95 289.85M629.85 289.85L631.95 287.75" class="mx"/>
<rect x="630" y="191.65" width="1.8" height="1.5" class="o"/>
<rect x="630" y="196.25" width="1.8" height="1.5" class="o"/>
<rect x="630" y="209.05" width="1.8" height="1.5" class="o"/>
<rect x="630" y="221.35" width="1.8" height="1.5" class="o"/>
<rect x="630" y="223.55" width="1.8" height="1.5" class="o"/>
<rect x="630" y="231.55" width="1.8" height="1.5" class="o"/>
<rect x="630" y="236.65" width="1.8" height="1.5" class="o"/>
<rect x="630" y="239.25" width="1.8" height="1.5" class="o"/>
<rect x="630" y="241.75" width="1.8" height="1.5" class="o"/>
<rect x="630" y="247.25" width="1.8" height="1.5" class="o"/>
<rect x="630" y="252.55" width="1.8" height="1.5" class="o"/>
<line x1="691" y1="282" x2="691" y2="295" class="wk"/>
<line x1="691" y1="304.9" x2="691" y2="308.4" class="wk"/>
<line x1="688.62" y1="282" x2="693.38" y2="282" class="cap"/>
<line x1="688.62" y1="308.4" x2="693.38" y2="308.4" class="cap"/>
<rect x="683.3" y="295" width="14.9" height="9.9" class="bw"/>
<line x1="683.3" y1="301.6" x2="698.2" y2="301.6" class="mw"/>
<path d="M689.95 297.35L692.05 299.45M689.95 299.45L692.05 297.35" class="mx"/>
<rect x="690.1" y="233.05" width="1.8" height="1.5" class="o"/>
<rect x="690.1" y="248.65" width="1.8" height="1.5" class="o"/>
<rect x="690.1" y="258.75" width="1.8" height="1.5" class="o"/>
<rect x="690.1" y="263.55" width="1.8" height="1.5" class="o"/>
<rect x="690.1" y="266.75" width="1.8" height="1.5" class="o"/>
<rect x="690.1" y="270.05" width="1.8" height="1.5" class="o"/>
<rect x="690.1" y="275.15" width="1.8" height="1.5" class="o"/>
<rect x="690.1" y="276.85" width="1.8" height="1.5" class="o"/>
<rect x="690.1" y="278.65" width="1.8" height="1.5" class="o"/>
<line x1="706.5" y1="267.2" x2="706.5" y2="288.2" class="wk"/>
<line x1="706.5" y1="302.3" x2="706.5" y2="308.4" class="wk"/>
<line x1="704.23" y1="267.2" x2="708.77" y2="267.2" class="cap"/>
<line x1="704.23" y1="308.4" x2="708.77" y2="308.4" class="cap"/>
<rect x="699.2" y="288.2" width="14.2" height="14.1" class="bd"/>
<line x1="699.2" y1="297.5" x2="713.4" y2="297.5" class="md"/>
<path d="M705.45 290.05L707.55 292.15M705.45 292.15L707.55 290.05" class="mx"/>
<rect x="705.6" y="184.15" width="1.8" height="1.5" class="o"/>
<rect x="705.6" y="227.25" width="1.8" height="1.5" class="o"/>
<rect x="705.6" y="240.55" width="1.8" height="1.5" class="o"/>
<rect x="705.6" y="245.75" width="1.8" height="1.5" class="o"/>
<rect x="705.6" y="248.95" width="1.8" height="1.5" class="o"/>
<rect x="705.6" y="250.05" width="1.8" height="1.5" class="o"/>
<rect x="705.6" y="254.65" width="1.8" height="1.5" class="o"/>
<rect x="705.6" y="257.55" width="1.8" height="1.5" class="o"/>
<rect x="705.6" y="263.15" width="1.8" height="1.5" class="o"/>
<rect x="705.6" y="264.25" width="1.8" height="1.5" class="o"/>
<line x1="435" y1="184.6" x2="435" y2="321.5" stroke="#aaa" stroke-width="2"/>
<line x1="435" y1="321.5" x2="737.1" y2="321.5" stroke="#777" stroke-width="1.5"/>
<rect x="509.8" y="321.3" width="1.2" height="1.8" fill="#333"/>
<rect x="585.3" y="321.3" width="1.2" height="1.8" fill="#333"/>
<rect x="660.8" y="321.3" width="1.2" height="1.8" fill="#333"/>
<rect x="736.5" y="321.3" width="1.2" height="1.8" fill="#333"/>
<text x="472.7" y="328.8" class="xl" style="font-size:4.25px">0 Dox</text>
<text x="548.2" y="328.8" class="xl" style="font-size:4.25px">0.2 Dox</text>
<text x="623.7" y="328.8" class="xl" style="font-size:4.25px">2 Dox</text>
<text x="699.4" y="328.8" class="xl" style="font-size:4.25px">20 Dox</text>
<text class="ti" style="font-size:11.01px" transform="translate(409.9 274.43) rotate(-90) scale(1.0128 1)">Aspect ratio</text>
<text x="43.9" y="509.61" class="tk" style="font-size:5.3px">0</text>
<rect x="44.7" y="506.5" width="1.3" height="1" fill="#333"/>
<text x="43.9" y="495.55" class="tk" style="font-size:5.3px">0.1</text>
<rect x="44.7" y="492.44" width="1.3" height="1" fill="#333"/>
<text x="43.9" y="481.49" class="tk" style="font-size:5.3px">0.2</text>
<rect x="44.7" y="478.38" width="1.3" height="1" fill="#333"/>
<text x="43.9" y="467.43" class="tk" style="font-size:5.3px">0.3</text>
<rect x="44.7" y="464.32" width="1.3" height="1" fill="#333"/>
<text x="43.9" y="453.37" class="tk" style="font-size:5.3px">0.4</text>
<rect x="44.7" y="450.26" width="1.3" height="1" fill="#333"/>
<text x="43.9" y="439.31" class="tk" style="font-size:5.3px">0.5</text>
<rect x="44.7" y="436.2" width="1.3" height="1" fill="#333"/>
<text x="43.9" y="425.25" class="tk" style="font-size:5.3px">0.6</text>
<rect x="44.7" y="422.14" width="1.3" height="1" fill="#333"/>
<text x="43.9" y="411.19" class="tk" style="font-size:5.3px">0.7</text>
<rect x="44.7" y="408.08" width="1.3" height="1" fill="#333"/>
<text x="43.9" y="397.13" class="tk" style="font-size:5.3px">0.8</text>
<rect x="44.7" y="394.02" width="1.3" height="1" fill="#333"/>
<text x="43.9" y="383.07" class="tk" style="font-size:5.3px">0.9</text>
<rect x="44.7" y="379.96" width="1.3" height="1" fill="#333"/>
<text x="43.9" y="369.01" class="tk" style="font-size:5.3px">1</text>
<rect x="44.7" y="365.9" width="1.3" height="1" fill="#333"/>
<line x1="75.3" y1="373.5" x2="75.3" y2="391.4" class="wk"/>
<line x1="75.3" y1="419.2" x2="75.3" y2="457.4" class="wk"/>
<line x1="72.4" y1="373.5" x2="78.2" y2="373.5" class="cap"/>
<line x1="72.4" y1="457.4" x2="78.2" y2="457.4" class="cap"/>
<rect x="66.4" y="391.4" width="18.1" height="27.8" class="bw"/>
<line x1="66.4" y1="400.5" x2="84.5" y2="400.5" class="mw"/>
<path d="M73.95 406.15L76.65 408.85M73.95 408.85L76.65 406.15" class="mx"/>
<rect x="74.4" y="462.05" width="1.8" height="1.5" class="o"/>
<rect x="74.4" y="463.35" width="1.8" height="1.5" class="o"/>
<rect x="74.4" y="467.05" width="1.8" height="1.5" class="o"/>
<rect x="74.4" y="471.05" width="1.8" height="1.5" class="o"/>
<rect x="74.4" y="488.05" width="1.8" height="1.5" class="o"/>
<line x1="95.4" y1="383.2" x2="95.4" y2="415.2" class="wk"/>
<line x1="95.4" y1="450.5" x2="95.4" y2="502.3" class="wk"/>
<line x1="92.49" y1="383.2" x2="98.31" y2="383.2" class="cap"/>
<line x1="92.49" y1="502.3" x2="98.31" y2="502.3" class="cap"/>
<rect x="86.4" y="415.2" width="18.2" height="35.3" class="bd"/>
<line x1="86.4" y1="430.7" x2="104.6" y2="430.7" class="md"/>
<path d="M94.05 432.15L96.75 434.85M94.05 434.85L96.75 432.15" class="mx"/>
<line x1="154.3" y1="377.5" x2="154.3" y2="387.4" class="wk"/>
<line x1="154.3" y1="402.6" x2="154.3" y2="425.5" class="wk"/>
<line x1="151.32" y1="377.5" x2="157.28" y2="377.5" class="cap"/>
<line x1="151.32" y1="425.5" x2="157.28" y2="425.5" class="cap"/>
<rect x="145.2" y="387.4" width="18.6" height="15.2" class="bw"/>
<line x1="145.2" y1="394.4" x2="163.8" y2="394.4" class="mw"/>
<path d="M152.95 396.25L155.65 398.95M152.95 398.95L155.65 396.25" class="mx"/>
<rect x="153.4" y="426.65" width="1.8" height="1.5" class="o"/>
<rect x="153.4" y="428.03" width="1.8" height="1.5" class="o"/>
<rect x="153.4" y="429.41" width="1.8" height="1.5" class="o"/>
<rect x="153.4" y="430.79" width="1.8" height="1.5" class="o"/>
<rect x="153.4" y="432.17" width="1.8" height="1.5" class="o"/>
<rect x="153.4" y="433.55" width="1.8" height="1.5" class="o"/>
<rect x="153.4" y="451.75" width="1.8" height="1.5" class="o"/>
<rect x="153.4" y="453.15" width="1.8" height="1.5" class="o"/>
<rect x="153.4" y="467.05" width="1.8" height="1.5" class="o"/>
<rect x="153.4" y="486.95" width="1.8" height="1.5" class="o"/>
<rect x="153.4" y="499.25" width="1.8" height="1.5" class="o"/>
<line x1="174.4" y1="383.2" x2="174.4" y2="414.2" class="wk"/>
<line x1="174.4" y1="453.6" x2="174.4" y2="498.5" class="wk"/>
<line x1="171.46" y1="383.2" x2="177.34" y2="383.2" class="cap"/>
<line x1="171.46" y1="498.5" x2="177.34" y2="498.5" class="cap"/>
<rect x="165.3" y="414.2" width="18.4" height="39.4" class="bd"/>
<line x1="165.3" y1="432.3" x2="183.7" y2="432.3" class="md"/>
<path d="M173.05 434.05L175.75 436.75M173.05 436.75L175.75 434.05" class="mx"/>
<line x1="233.2" y1="381.4" x2="233.2" y2="394.4" class="wk"/>
<line x1="233.2" y1="412.3" x2="233.2" y2="437.5" class="wk"/>
<line x1="230.3" y1="381.4" x2="236.1" y2="381.4" class="cap"/>
<line x1="230.3" y1="437.5" x2="236.1" y2="437.5" class="cap"/>
<rect x="224.4" y="394.4" width="18.1" height="17.9" class="bw"/>
<line x1="224.4" y1="402.3" x2="242.5" y2="402.3" class="mw"/>
<path d="M231.85 408.25L234.55 410.95M231.85 410.95L234.55 408.25" class="mx"/>
<rect x="232.3" y="438.85" width="1.8" height="1.5" class="o"/>
<rect x="232.3" y="440.41" width="1.8" height="1.5" class="o"/>
<rect x="232.3" y="441.96" width="1.8" height="1.5" class="o"/>
<rect x="232.3" y="443.52" width="1.8" height="1.5" class="o"/>
<rect x="232.3" y="445.08" width="1.8" height="1.5" class="o"/>
<rect x="232.3" y="446.64" width="1.8" height="1.5" class="o"/>
<rect x="232.3" y="448.19" width="1.8" height="1.5" class="o"/>
<rect x="232.3" y="449.75" width="1.8" height="1.5" class="o"/>
<rect x="232.3" y="453.65" width="1.8" height="1.5" class="o"/>
<rect x="232.3" y="455.2" width="1.8" height="1.5" class="o"/>
<rect x="232.3" y="456.75" width="1.8" height="1.5" class="o"/>
<rect x="232.3" y="458.3" width="1.8" height="1.5" class="o"/>
<rect x="232.3" y="459.85" width="1.8" height="1.5" class="o"/>
<rect x="232.3" y="464.45" width="1.8" height="1.5" class="o"/>
<rect x="232.3" y="470.65" width="1.8" height="1.5" class="o"/>
<rect x="232.3" y="472.2" width="1.8" height="1.5" class="o"/>
<rect x="232.3" y="473.75" width="1.8" height="1.5" class="o"/>
<rect x="232.3" y="475.3" width="1.8" height="1.5" class="o"/>
<rect x="232.3" y="476.85" width="1.8" height="1.5" class="o"/>
<rect x="232.3" y="486.95" width="1.8" height="1.5" class="o"/>
<rect x="232.3" y="493.55" width="1.8" height="1.5" class="o"/>
<line x1="253.7" y1="377.5" x2="253.7" y2="414.5" class="wk"/>
<line x1="253.7" y1="447.4" x2="253.7" y2="492.6" class="wk"/>
<line x1="250.77" y1="377.5" x2="256.63" y2="377.5" class="cap"/>
<line x1="250.77" y1="492.6" x2="256.63" y2="492.6" class="cap"/>
<rect x="244.4" y="414.5" width="18.3" height="32.9" class="bd"/>
<line x1="244.4" y1="429.4" x2="262.7" y2="429.4" class="md"/>
<path d="M252.35 430.95L255.05 433.65M252.35 433.65L255.05 430.95" class="mx"/>
<line x1="312.5" y1="373.5" x2="312.5" y2="388.3" class="wk"/>
<line x1="312.5" y1="412.3" x2="312.5" y2="447.4" class="wk"/>
<line x1="309.54" y1="373.5" x2="315.46" y2="373.5" class="cap"/>
<line x1="309.54" y1="447.4" x2="315.46" y2="447.4" class="cap"/>
<rect x="303.2" y="388.3" width="18.5" height="24" class="bw"/>
<line x1="303.2" y1="400.6" x2="321.7" y2="400.6" class="mw"/>
<path d="M311.15 404.35L313.85 407.05M311.15 407.05L313.85 404.35" class="mx"/>
<rect x="311.6" y="452.55" width="1.8" height="1.5" class="o"/>
<rect x="311.6" y="454.05" width="1.8" height="1.5" class="o"/>
<rect x="311.6" y="458.25" width="1.8" height="1.5" class="o"/>
<rect x="311.6" y="460.25" width="1.8" height="1.5" class="o"/>
<rect x="311.6" y="461.35" width="1.8" height="1.5" class="o"/>
<rect x="311.6" y="466.75" width="1.8" height="1.5" class="o"/>
<rect x="311.6" y="470.95" width="1.8" height="1.5" class="o"/>
<rect x="311.6" y="473.75" width="1.8" height="1.5" class="o"/>
<rect x="311.6" y="475.25" width="1.8" height="1.5" class="o"/>
<rect x="311.6" y="496.25" width="1.8" height="1.5" class="o"/>
<line x1="332.6" y1="383.2" x2="332.6" y2="411.4" class="wk"/>
<line x1="332.6" y1="444.6" x2="332.6" y2="488.4" class="wk"/>
<line x1="329.67" y1="383.2" x2="335.53" y2="383.2" class="cap"/>
<line x1="329.67" y1="488.4" x2="335.53" y2="488.4" class="cap"/>
<rect x="323.3" y="411.4" width="18.3" height="33.2" class="bd"/>
<line x1="323.3" y1="422.4" x2="341.6" y2="422.4" class="md"/>
<path d="M331.25 426.45L333.95 429.15M331.25 429.15L333.95 426.45" class="mx"/>
<rect x="331.7" y="497.75" width="1.8" height="1.5" class="o"/>
<line x1="46.3" y1="366.5" x2="46.3" y2="507" stroke="#555" stroke-width="1.3"/>
<line x1="46.3" y1="507" x2="362.3" y2="507" stroke="#aaa" stroke-width="2"/>
<rect x="124.8" y="506.8" width="1.2" height="1.8" fill="#333"/>
<rect x="203.9" y="506.8" width="1.2" height="1.8" fill="#333"/>
<rect x="283" y="506.8" width="1.2" height="1.8" fill="#333"/>
<rect x="361.7" y="506.8" width="1.2" height="1.8" fill="#333"/>
<text x="85.8" y="515" class="xl" style="font-size:4.75px">0 Dox</text>
<text x="165" y="515" class="xl" style="font-size:4.75px">0.2 Dox</text>
<text x="244" y="515" class="xl" style="font-size:4.75px">2 Dox</text>
<text x="323.3" y="515" class="xl" style="font-size:4.75px">20 Dox</text>
<text class="ti" style="font-size:11.3px" transform="translate(22.8 450.62) rotate(-90) scale(1.1587 1)">MN</text>
</svg></body></html>
